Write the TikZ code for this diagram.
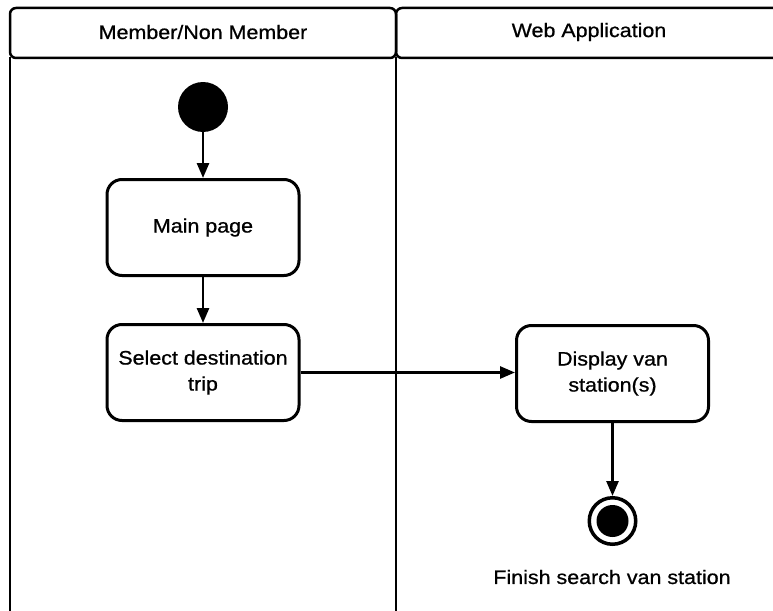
\documentclass[tikz,border=0pt]{standalone}
\usepackage{fontspec}
\setmainfont{Liberation Sans}[FakeStretch=1.1,FakeBold=0.8]
\usetikzlibrary{arrows.meta}
\begin{document}
\begin{tikzpicture}[x=1pt,y=-1pt,
  lane/.style={line width=2.5pt},
  header/.style={draw, line width=2.5pt, rounded corners=6pt},
  txt/.style={font=\fontsize{19.5}{26}\selectfont, align=center, inner sep=0pt},
  action/.style={txt, draw, line width=3pt, rounded corners=15pt,
                 minimum width=192pt, minimum height=96pt},
  initial/.style={circle, fill=black, minimum size=50pt, inner sep=0pt},
  final/.style={circle, draw, fill=white, line width=3.5pt, minimum size=46.5pt, inner sep=0pt,
                path picture={\fill[black] (path picture bounding box.center) circle (16pt);}},
  flow/.style={line width=2.7pt, -{Triangle[length=15pt,width=12pt]}}
]
\useasboundingbox (0,0) rectangle (773,610);
\clip (0,0) rectangle (773,610);

% swimlanes
\draw[lane] (10,57) -- (10,625);
\draw[lane] (396,57) -- (396,625);
\draw[lane] (783,57) -- (783,625);
\draw[header] (10,8) rectangle (396,58);
\draw[header] (396,8) rectangle (783,58);
\node[txt] (laneA) at (203,32) {Member/Non Member};
\node[txt] (laneB) at (589,32) {Web Application};

% activity nodes
\node[initial] (start) at (203,107) {};
\node[action] (main) at (203,227.5) {Main page};
\node[action] (select) at (203,372.5) {Select destination\\trip};
\node[action] (display) at (612.5,373.5) {Display van\\station(s)};
\node[final] (end) at (612.5,521) {};
\node[txt] (endlbl) at (612,577) {Finish search van station};

% control flow
\draw[flow] (start) -- (main);
\draw[flow] (main) -- (select);
\draw[flow] (select.east) -- (select.east -| display.west);
\draw[flow] (display) -- (end);
\end{tikzpicture}
\end{document}
